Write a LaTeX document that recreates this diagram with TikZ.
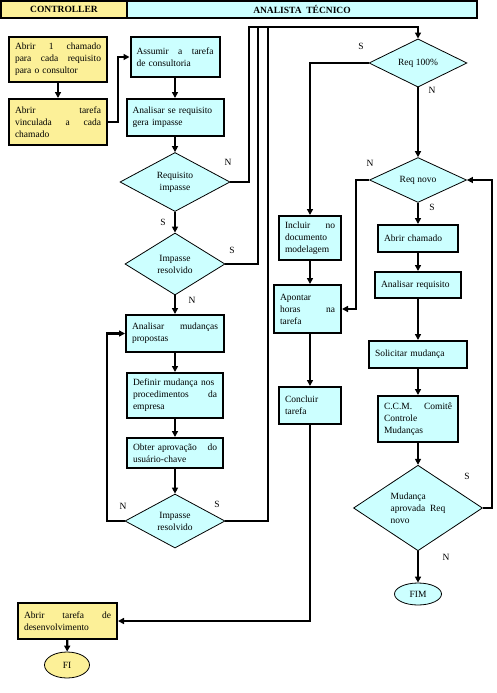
\documentclass[tikz,border=0pt]{standalone}
\usepackage{fontspec}
\setmainfont{Liberation Serif}
\usepackage{xcolor}
\usetikzlibrary{positioning, arrows.meta, shapes}
\definecolor{ctrlyellow}{RGB}{252,240,152}
\definecolor{anacyan}{RGB}{204,255,255}
\begin{document}
\begin{tikzpicture}[x=1pt, y=-1pt, font=\fontsize{9.5}{12}\selectfont,
    arr/.style={line width=2.2pt, -{Triangle[length=6pt,width=6pt]}},
    link/.style={line width=2.2pt},
    thinlink/.style={line width=1.5pt},
    ybox/.style={draw, line width=2pt, fill=ctrlyellow, inner xsep=6pt, inner ysep=2pt, align=left},
    cbox/.style={draw, line width=2pt, fill=anacyan, inner xsep=6pt, inner ysep=2pt, align=left},
    decision/.style={diamond, draw, line width=0.8pt, fill=anacyan, inner sep=0pt, align=center},
    term/.style={ellipse, draw, line width=0.8pt, inner sep=0pt},
    lbl/.style={inner sep=0pt}]
    \useasboundingbox (0,0) rectangle (496,693);

    % Draw lane headers
    \node[draw, line width=2pt, fill=ctrlyellow, minimum width=126, minimum height=17] (hctrl) at (64,9.5) {\bfseries CONTROLLER};
    \node[draw, line width=2pt, fill=anacyan, minimum width=350, minimum height=17] (hanal) at (302,9.5) {\bfseries ANALISTA\ \ TÉCNICO};

    % Controller boxes
    \node[ybox, text width=86, minimum height=45] (abrir1) at (58,59.5) {Abrir\hfill 1\hfill chamado\\para\hfill cada\hfill requisito\\para o consultor};
    \node[ybox, text width=86, minimum height=46] (abrir2) at (58,122) {Abrir\hfill tarefa\\vinculada\hfill a\hfill cada\\chamado};
    \node[ybox, text width=87, minimum height=36] (abrirdev) at (67.5,621) {Abrir\hfill tarefa\hfill de\\desenvolvimento};
    \node[term, fill=ctrlyellow, minimum width=45, minimum height=26] (fi) at (67,665) {FI};

    % Left column of the analyst
    \node[cbox, text width=77, minimum height=40] (assumir) at (175,57) {Assumir\hfill a\hfill tarefa\\de consultoria};
    \node[cbox, text width=85, minimum height=37] (anreq) at (175,117.5) {Analisar se requisito\\gera impasse};
    \node[decision, minimum width=110, minimum height=59] (reqimp) at (175,182) {Requisito\\impasse};
    \node[decision, minimum width=100, minimum height=62] (impres1) at (175,264) {Impasse\\resolvido};
    \node[cbox, text width=86, minimum height=37] (anmud) at (175,333.5) {Analisar\hfill mudanças\\propostas};
    \node[cbox, text width=84, minimum height=45] (defmud) at (175,395.5) {Definir mudança nos\\procedimentos\hfill da\\empresa};
    \node[cbox, text width=84, minimum height=30] (obter) at (175,453) {Obter aprovação\hfill do\\usuário-chave};
    \node[decision, minimum width=100, minimum height=54] (impres2) at (175,521) {Impasse\\resolvido};

    % Middle column
    \node[cbox, text width=50, minimum height=44] (incluir) at (310,238) {Incluir\hfill no\\documento\\modelagem};
    \node[cbox, text width=55, minimum height=48] (apontar) at (307.5,309) {Apontar\\horas\hfill na\\tarefa};
    \node[cbox, text width=50, minimum height=37] (concluir) at (310,405.5) {Concluir\\tarefa};

    % Right column
    \node[decision, minimum width=98, minimum height=35] (req100) at (418,63) {Req 100\%};
    \node[decision, minimum width=97, minimum height=35] (reqnovo) at (418,180) {Req novo};
    \node[cbox, text width=68, minimum height=27] (abrirch) at (418,238.5) {Abrir chamado};
    \node[cbox, text width=74, minimum height=26] (anrq) at (418,285) {Analisar requisito};
    \node[cbox, text width=86, minimum height=27] (solmud) at (418,354.5) {Solicitar mudança};
    \node[cbox, text width=68, minimum height=46] (ccm) at (418,419) {C.C.M.\hfill Comitê\\Controle\\Mudanças};
    \node[decision, minimum width=129, minimum height=80, align=left] (mudapr) at (418,508) {Mudança\\aprovada\ \ Req\\novo};
    \node[term, fill=anacyan, minimum width=47, minimum height=22] (fim) at (418,594) {FIM};

    % Corners of the long return lines
    \coordinate (t1) at (249,27);
    \coordinate (t2) at (258,27);
    \coordinate (t3) at (268,27);

    % Draw connectors
    \draw[arr] (abrir1) -- (abrir2);
    \draw[arr] (abrir2.east) -- ++(10,0) |- (assumir.west);
    \draw[arr] (assumir) -- (anreq);
    \draw[arr] (anreq) -- (reqimp);
    \draw[arr] (reqimp) -- (impres1);
    \draw[arr] (impres1) -- (anmud);
    \draw[arr] (anmud) -- (defmud);
    \draw[arr] (defmud) -- (obter);
    \draw[arr] (obter) -- (impres2);
    \draw[arr] (impres2.west) -- ++(-18,0) |- (anmud.west);
    \draw[arr] (reqimp.east) -| (t1) -| (req100.north);
    \draw[thinlink] (impres1.east) -| (t2);
    \draw[thinlink] (impres2.east) -| (t3);
    \draw[arr] (req100.west) -| (incluir.north);
    \draw[arr] (req100) -- (reqnovo);
    \draw[arr] (reqnovo.west) -- ++(-13,0) |- (apontar.east);
    \draw[arr] (reqnovo) -- (abrirch);
    \draw[arr] (abrirch) -- (anrq);
    \draw[arr] (anrq) -- (solmud);
    \draw[arr] (solmud) -- (ccm);
    \draw[arr] (ccm) -- (mudapr);
    \draw[arr] (mudapr) -- (fim);
    \draw[arr] (mudapr.east) -- ++(9,0) |- (reqnovo.east);
    \draw[arr] (incluir.south) -- (incluir.south |- apontar.north);
    \draw[arr] (incluir.south |- apontar.south) -- (concluir.north);
    \draw[arr] (concluir.south) |- (abrirdev.east);
    \draw[arr] (abrirdev) -- (fi);

    % Branch labels
    \node[lbl] (lreqimpn) at (228,162) {N};
    \node[lbl] (lreqimps) at (163,222) {S};
    \node[lbl] (limp1s) at (232,250) {S};
    \node[lbl] (limp1n) at (192,300) {N};
    \node[lbl] (limp2n) at (123,506) {N};
    \node[lbl] (limp2s) at (217,504) {S};
    \node[lbl] (lreq100s) at (361,46) {S};
    \node[lbl] (lreq100n) at (432,90) {N};
    \node[lbl] (lreqnovon) at (370,163) {N};
    \node[lbl] (lreqnovos) at (432,207) {S};
    \node[lbl] (lmudaprs) at (467,476) {S};
    \node[lbl] (lmudaprn) at (446,557) {N};
\end{tikzpicture}
\end{document}
